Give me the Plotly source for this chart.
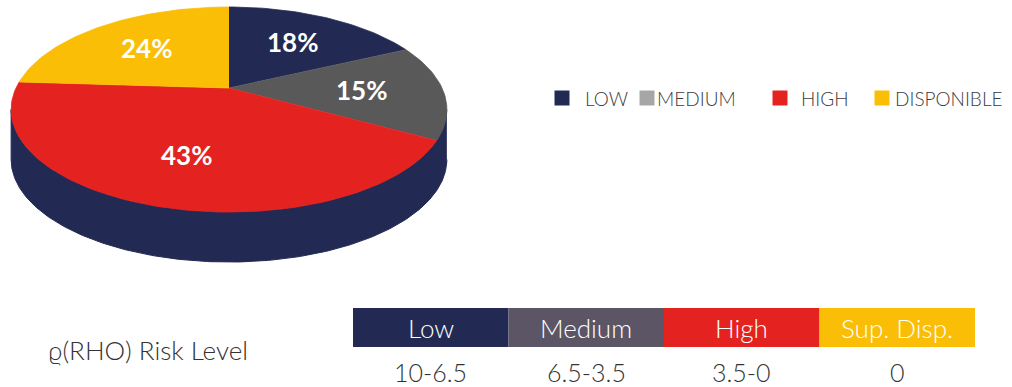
import math
import plotly.graph_objects as go

# ---- data ----
slice_labels = ["LOW", "MEDIUM", "HIGH", "DISPONIBLE"]
slice_values = [18, 15, 43, 24]
slice_colors = ["#222A54", "#595959", "#E42320", "#FABE07"]
legend_colors = ["#222A54", "#A6A6A6", "#E42320", "#FABE07"]

table_headers = ["Low", "Medium", "High", "Sup. Disp."]
table_ranges = ["10-6.5", "6.5-3.5", "3.5-0", "0"]
table_colors = ["#222A54", "#5C5566", "#E42320", "#FABE07"]
row_title = "\u03f1(RHO) Risk Level"

# ---- 3D pie geometry (pixel space) ----
CX, CY = 229.0, 88.0      # apex of the slices
AX, BY = 213.0, 98.0      # horizontal / vertical radii
PERSP = 0.21              # foreshortening of the far half
DEPTH = 50.0              # thickness of the disc
N = 240


def project(frac, r=1.0):
    t = 2 * math.pi * frac
    u = r * math.sin(t)
    v = r * math.cos(t)
    w = 1 + PERSP * v
    return CX + AX * u / w, CY - BY * v / w


fig = go.Figure()

# side wall of the disc (front half, seen below the top face)
t_right = math.acos(-PERSP) / (2 * math.pi)
t_left = 1 - t_right
arc = [t_right + (t_left - t_right) * i / N for i in range(N + 1)]
top_pts = [project(f) for f in arc]
bot_pts = [(x, y + DEPTH) for x, y in reversed(top_pts)]
side = top_pts + bot_pts
fig.add_trace(go.Scatter(
    x=[p[0] for p in side], y=[p[1] for p in side],
    fill="toself", fillcolor=slice_colors[0], mode="lines",
    line=dict(color=slice_colors[0], width=1), hoverinfo="skip", showlegend=False))

# top face: one wedge per value, clockwise from 12 o'clock
total = sum(slice_values)
start = 0.0
for lab, val, col in zip(slice_labels, slice_values, slice_colors):
    frac = val / total
    steps = max(8, int(N * frac))
    pts = [(CX, CY)] + [project(start + frac * i / steps) for i in range(steps + 1)]
    fig.add_trace(go.Scatter(
        x=[p[0] for p in pts], y=[p[1] for p in pts],
        fill="toself", fillcolor=col, mode="lines",
        line=dict(color=col, width=0.8), hoverinfo="skip", showlegend=False))
    lx, ly = project(start + frac / 2, 0.62)
    fig.add_annotation(x=lx, y=ly, text=f"{val}%", showarrow=False,
                       font=dict(family="Lato", size=26, color="white", weight="bold"))
    start += frac

# legend row
legend_sq_x = [562, 647, 780, 882]
legend_txt_x = [583, 655, 799, 893]
LEG_Y = 98
fig.add_trace(go.Scatter(
    x=legend_sq_x, y=[LEG_Y] * 4, mode="markers",
    marker=dict(symbol="square", size=15, color=legend_colors, line=dict(width=0)),
    hoverinfo="skip", showlegend=False))
for tx, lab in zip(legend_txt_x, slice_labels):
    fig.add_annotation(x=tx, y=LEG_Y, text=lab, showarrow=False, xanchor="left",
                       font=dict(family="Lato", size=19, color="#3C3C3C", weight=300))

# risk-level table
T_LEFT, T_RIGHT = 353.0, 975.0
H_TOP, H_BOT = 308.0, 347.0
VAL_Y = 372.0
col_w = (T_RIGHT - T_LEFT) / len(table_headers)
shapes = []
for i, (hdr, rng, col) in enumerate(zip(table_headers, table_ranges, table_colors)):
    x0 = T_LEFT + i * col_w
    shapes.append(dict(type="rect", xref="x", yref="y", x0=x0, x1=x0 + col_w,
                       y0=H_TOP, y1=H_BOT, fillcolor=col, line=dict(width=0), layer="below"))
    fig.add_annotation(x=x0 + col_w / 2, y=(H_TOP + H_BOT) / 2, text=hdr, showarrow=False,
                       font=dict(family="Lato", size=26, color="white", weight=300))
    fig.add_annotation(x=x0 + col_w / 2, y=VAL_Y, text=rng, showarrow=False,
                       font=dict(family="Lato", size=25, color="#333333", weight=300))

fig.add_annotation(x=46, y=350, text=row_title, showarrow=False, xanchor="left",
                   font=dict(family="Lato", size=26, color="#333333", weight=300))

fig.update_layout(
    width=1012, height=387, autosize=False,
    margin=dict(l=0, r=0, t=0, b=0),
    paper_bgcolor="white", plot_bgcolor="white",
    shapes=shapes,
    xaxis=dict(range=[0, 1012], visible=False, fixedrange=True),
    yaxis=dict(range=[387, 0], visible=False, fixedrange=True),
    showlegend=False,
)

fig.write_html("out.html")
